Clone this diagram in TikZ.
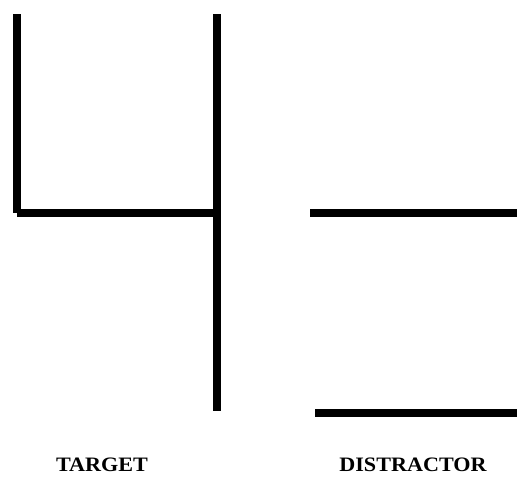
\documentclass[tikz,border=0pt]{standalone}
\usepackage{fontspec}
\setmainfont{Liberation Serif}
\usetikzlibrary{positioning}

\begin{document}
\begin{tikzpicture}[
  x=1pt, y=-1pt,
  bar/.style={line width=8pt},
  lbl/.style={font=\bfseries\fontsize{20.5}{22}\selectfont, xscale=1.08, anchor=base, inner sep=0pt}
]
\useasboundingbox (0,0) rectangle (517,479);

% target
\coordinate (tl) at (17,14);
\coordinate (tc) at (17,212.5);
\coordinate (tr) at (216.5,14);
\coordinate (tb) at (216.5,411);
\draw[bar] (tl) -- (tc);
\draw[bar] (tc) -- (216.5,212.5);
\draw[bar] (tr) -- (tb);

% distractor
\coordinate (d1) at (310,213);
\coordinate (d2) at (315,412.5);
\draw[bar] (d1) -- (517,213);
\draw[bar] (d2) -- (517,412.5);

\node[lbl] (target) at (102,471) {TARGET};
\node[lbl] (distractor) at (413,471) {DISTRACTOR};
\end{tikzpicture}
\end{document}
